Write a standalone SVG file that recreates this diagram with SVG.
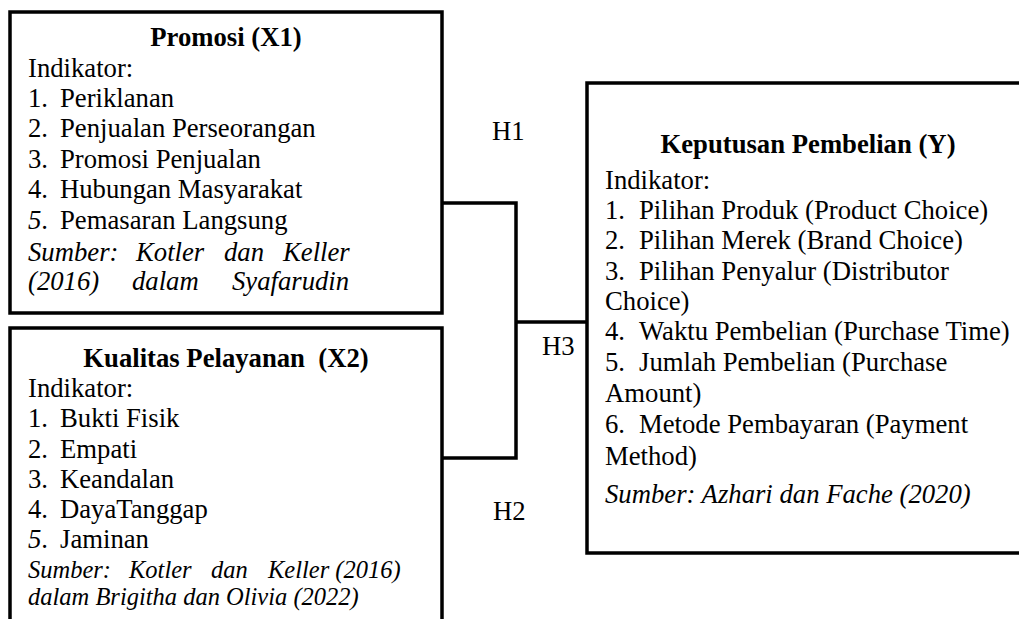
<svg xmlns="http://www.w3.org/2000/svg" width="1019" height="619" viewBox="0 0 1019 619">
<style>
text{font-family:"Liberation Serif","Times New Roman",serif;font-size:26.7px;fill:#000}
.b{font-weight:bold}
.i{font-style:italic}
.s{font-size:24.5px}
.box{fill:#fff;stroke:#000;stroke-width:3.5}
.con{fill:none;stroke:#000;stroke-width:3.5;stroke-linejoin:miter}
</style>
<rect width="1019" height="619" fill="#fff"/>
<g id="connectors">
<polyline class="con" points="442,203 516,203 516,458 442,458"/>
<line class="con" x1="516" y1="322" x2="586" y2="322"/>
<text x="492" y="140">H1</text>
<text x="542" y="355">H3</text>
<text x="493" y="520">H2</text>
</g>
<g id="promosi">
<rect class="box" x="10" y="12" width="432" height="301"/>
<text class="b" x="226" y="46" text-anchor="middle">Promosi (X1)</text>
<text x="28" y="77">Indikator:</text>
<text x="28" y="107">1.</text><text x="60" y="107">Periklanan</text>
<text x="28" y="137">2.</text><text x="60" y="137">Penjualan Perseorangan</text>
<text x="28" y="168">3.</text><text x="60" y="168">Promosi Penjualan</text>
<text x="28" y="198">4.</text><text x="60" y="198">Hubungan Masyarakat</text>
<text x="28" y="229"><tspan class="i">5</tspan>.</text><text x="60" y="229">Pemasaran Langsung</text>
<text class="i" y="261"><tspan x="28">Sumber:</tspan><tspan x="136">Kotler</tspan><tspan x="224">dan</tspan><tspan x="283">Keller</tspan></text>
<text class="i" y="290"><tspan x="28">(2016)</tspan><tspan x="132">dalam</tspan><tspan x="232">Syafarudin</tspan></text>
</g>
<g id="kualitas">
<path class="box" d="M10,640 L10,328 L442,328 L442,640"/>
<text class="b" x="226" y="367" text-anchor="middle" xml:space="preserve">Kualitas Pelayanan  (X2)</text>
<text x="28" y="397">Indikator:</text>
<text x="28" y="427">1.</text><text x="60" y="427">Bukti Fisik</text>
<text x="28" y="458">2.</text><text x="60" y="458">Empati</text>
<text x="28" y="488">3.</text><text x="60" y="488">Keandalan</text>
<text x="28" y="518">4.</text><text x="60" y="518">DayaTanggap</text>
<text x="28" y="548"><tspan class="i">5</tspan>.</text><text x="60" y="548">Jaminan</text>
<text class="i s" y="578"><tspan x="28">Sumber:</tspan><tspan x="129">Kotler</tspan><tspan x="211">dan</tspan><tspan x="268">Keller (2016)</tspan></text>
<text class="i s" x="28" y="605">dalam Brigitha dan Olivia (2022)</text>
</g>
<g id="keputusan">
<path class="box" d="M1030,83 L587,83 L587,553 L1030,553"/>
<text class="b" x="808" y="153" text-anchor="middle">Keputusan Pembelian (Y)</text>
<text x="605" y="189">Indikator:</text>
<text x="605" y="219">1.</text><text x="639" y="219">Pilihan Produk (Product Choice)</text>
<text x="605" y="249">2.</text><text x="639" y="249">Pilihan Merek (Brand Choice)</text>
<text x="605" y="280">3.</text><text x="639" y="280">Pilihan Penyalur (Distributor</text>
<text x="605" y="310">Choice)</text>
<text x="605" y="340">4.</text><text x="639" y="340">Waktu Pembelian (Purchase Time)</text>
<text x="605" y="371">5.</text><text x="639" y="371">Jumlah Pembelian (Purchase</text>
<text x="605" y="402">Amount)</text>
<text x="605" y="433">6.</text><text x="639" y="433">Metode Pembayaran (Payment</text>
<text x="605" y="465">Method)</text>
<text class="i" x="605" y="503">Sumber: Azhari dan Fache (2020)</text>
</g>
</svg>
